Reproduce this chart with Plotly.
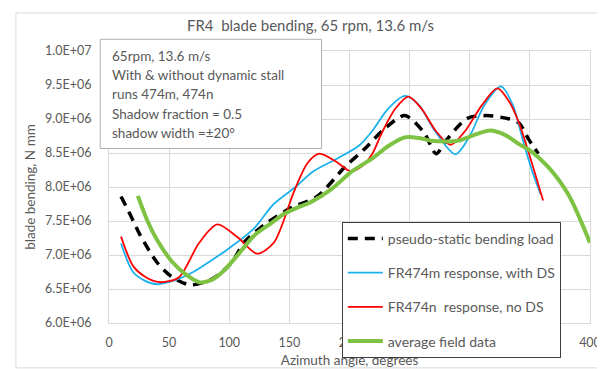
import plotly.graph_objects as go

# ---------------- data ----------------
azimuth_static = [10, 18, 26, 40, 53, 68, 86, 102, 113, 132, 152, 173, 197, 212, 230,
                  246, 262, 272, 281, 298, 314, 333, 341, 349, 357]
bending_static = [7.86e6, 7.58e6, 7.29e6, 6.89e6, 6.67e6, 6.56e6, 6.65e6, 6.89e6, 7.20e6,
                  7.48e6, 7.70e6, 7.86e6, 8.31e6, 8.55e6, 8.87e6, 9.05e6, 8.80e6, 8.49e6,
                  8.70e6, 9.01e6, 9.05e6, 9.00e6, 8.94e6, 8.70e6, 8.49e6]

azimuth_474m = [10, 20, 30, 40, 55, 70, 85, 100, 120, 137, 155, 170, 190, 208, 220, 232,
                246, 258, 270, 288, 300, 312, 326, 336, 344, 352, 359]
bending_474m = [7.17e6, 6.75e6, 6.62e6, 6.57e6, 6.63e6, 6.75e6, 6.92e6, 7.10e6, 7.38e6,
                7.75e6, 8.00e6, 8.23e6, 8.42e6, 8.61e6, 8.85e6, 9.15e6, 9.34e6, 9.20e6,
                8.85e6, 8.48e6, 8.75e6, 9.20e6, 9.48e6, 9.20e6, 8.70e6, 8.23e6, 7.89e6]

azimuth_474n = [10, 20, 30, 42, 58, 75, 90, 107, 123, 137, 154, 165, 175, 189, 201, 210,
                219, 227, 238, 249, 260, 272, 284, 296, 310, 323, 333, 341, 350, 361]
bending_474n = [7.27e6, 6.84e6, 6.68e6, 6.60e6, 6.67e6, 7.18e6, 7.45e6, 7.26e6, 7.02e6,
                7.18e6, 7.94e6, 8.35e6, 8.49e6, 8.37e6, 8.23e6, 8.30e6, 8.49e6, 8.80e6,
                9.15e6, 9.33e6, 9.15e6, 8.82e6, 8.62e6, 8.82e6, 9.20e6, 9.45e6, 9.25e6,
                8.94e6, 8.45e6, 7.80e6]

azimuth_field = [24, 32, 40, 53, 65, 75, 85, 95, 108, 121, 135, 146, 157, 167, 185, 202,
                 219, 232, 246, 258, 268, 280, 290, 303, 317, 330, 341, 350, 365, 382, 400]
bending_field = [7.87e6, 7.50e6, 7.22e6, 6.89e6, 6.70e6, 6.60e6, 6.63e6, 6.76e6, 7.02e6,
                 7.29e6, 7.47e6, 7.61e6, 7.70e6, 7.77e6, 7.97e6, 8.23e6, 8.42e6, 8.60e6,
                 8.73e6, 8.72e6, 8.68e6, 8.67e6, 8.68e6, 8.76e6, 8.83e6, 8.76e6, 8.63e6,
                 8.54e6, 8.30e6, 7.89e6, 7.18e6]

series_names = ["pseudo-static bending load", "FR474m response, with DS",
                "FR474n  response, no DS", "average field data"]

y_tick_values = [6.0e6, 6.5e6, 7.0e6, 7.5e6, 8.0e6, 8.5e6, 9.0e6, 9.5e6, 1.0e7]
y_tick_labels = ["6.0E+06", "6.5E+06", "7.0E+06", "7.5E+06", "8.0E+06",
                 "8.5E+06", "9.0E+06", "9.5E+06", "1.0E+07"]
x_tick_values = [0, 50, 100, 150, 200, 250, 300, 350, 400]

title_text = "FR4\u00a0\u00a0blade bending, 65 rpm, 13.6 m/s"
x_title = "Azimuth angle, degrees"
y_title = "blade bending, N mm"
box_lines = ["65rpm, 13.6 m/s", "With &amp; without dynamic stall", "runs 474m, 474n",
             "Shadow fraction = 0.5", "shadow width =\u00b120\u00b0"]

# ---------------- figure ----------------
FONT = "Lato, 'Open Sans', sans-serif"
GREY = "#595959"

fig = go.Figure()
fig.add_trace(go.Scatter(x=azimuth_static, y=bending_static, name=series_names[0],
                         mode="lines", line=dict(color="#000000", width=3.5, dash="10px,7px",
                                                 shape="spline", smoothing=0.8),
                         legendgroup="a"))
fig.add_trace(go.Scatter(x=azimuth_474m, y=bending_474m, name=series_names[1],
                         mode="lines", line=dict(color="#1CB0EC", width=1.8,
                                                 shape="spline", smoothing=0.8),
                         legendgroup="b"))
fig.add_trace(go.Scatter(x=azimuth_474n, y=bending_474n, name=series_names[2],
                         mode="lines", line=dict(color="#FF0000", width=1.8,
                                                 shape="spline", smoothing=0.8),
                         legendgroup="c"))
fig.add_trace(go.Scatter(x=azimuth_field, y=bending_field, name=series_names[3],
                         mode="lines", line=dict(color="#7DC242", width=4,
                                                 shape="spline", smoothing=0.8),
                         legendgroup="d"))

annotations = []
for i, line in enumerate(box_lines):
    annotations.append(dict(xref="paper", yref="paper", x=0.0014, y=0.981 - i * 0.0703,
                            xanchor="left", yanchor="middle", showarrow=False, text=line,
                            font=dict(family=FONT, size=13.5, color=GREY)))

shapes = [
    # outer chart frame
    dict(type="rect", xref="paper", yref="paper", x0=-0.1935, x1=1.0214, y0=-0.1649, y1=1.1398,
         line=dict(color="#d9d9d9", width=1), fillcolor="rgba(0,0,0,0)", layer="below"),
    # text box
    dict(type="rect", xref="paper", yref="paper", x0=-0.0183, x1=0.4420, y0=0.6416, y1=1.043,
         line=dict(color="#b0b0b0", width=1), fillcolor="white", layer="above"),
]

fig.update_layout(
    width=605, height=369,
    margin=dict(l=101, r=13, t=43, b=47),
    paper_bgcolor="white", plot_bgcolor="white",
    font=dict(family=FONT, color=GREY, size=12),
    title=dict(text=title_text, x=0.5, xanchor="center", y=0.952, yanchor="middle",
               font=dict(family=FONT, size=15, color=GREY)),
    showlegend=True,
    legend=dict(x=0.484, y=0.3717, xanchor="left", yanchor="top",
                bgcolor="white", bordercolor="#3f3f3f", borderwidth=1,
                font=dict(family=FONT, size=14, color=GREY),
                tracegroupgap=13, itemwidth=35, traceorder="grouped"),
    annotations=annotations,
    shapes=shapes,
)

fig.update_xaxes(range=[0, 400], tickvals=x_tick_values, showgrid=True, gridcolor="#d9d9d9",
                 gridwidth=1, zeroline=False, showline=True, linecolor="#d9d9d9", mirror=True,
                 ticks="", tickfont=dict(family=FONT, size=12.5, color=GREY),
                 ticklabelstandoff=8,
                 title=dict(text=x_title, font=dict(family=FONT, size=13.5, color=GREY),
                            standoff=6))
fig.update_yaxes(range=[6.0e6, 1.0e7], tickvals=y_tick_values, ticktext=y_tick_labels,
                 showgrid=True, gridcolor="#d9d9d9", gridwidth=1, zeroline=False,
                 showline=True, linecolor="#d9d9d9", mirror=True, ticks="",
                 tickfont=dict(family=FONT, size=12.5, color=GREY), ticklabelstandoff=14,
                 title=dict(text=y_title, font=dict(family=FONT, size=13.5, color=GREY),
                            standoff=6))

post = """
var gd = document.getElementById('{plot_id}');
var leg = gd.querySelector('.infolayer .legend');
if (leg && leg.parentNode) { leg.parentNode.appendChild(leg); }
"""
fig.write_html("out.html", post_script=post, config={"displayModeBar": False})
